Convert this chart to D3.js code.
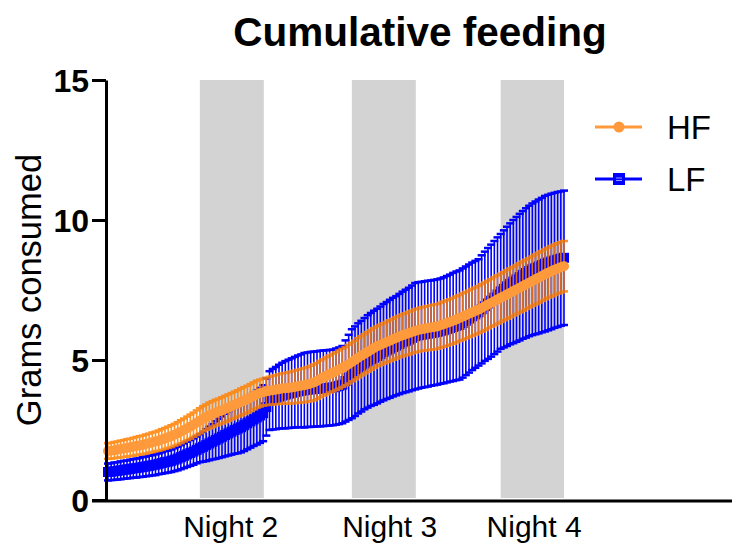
<!DOCTYPE html>
<html>
<head>
<meta charset="utf-8">
<script src="https://cdn.jsdelivr.net/npm/d3@7"></script>
<style>
  html, body { margin: 0; padding: 0; background: #fff; }
  svg { display: block; font-family: "Liberation Sans", Arial, Helvetica, sans-serif; }
</style>
</head>
<body>
<svg id="chart" width="732" height="544"></svg>
<script>
// ---------- data ----------
const title = "Cumulative feeding";
const yLabel = "Grams consumed";
const seriesNames = ["HF", "LF"];
const yTicks = [0, 5, 10, 15];
const nightLabels = ["Night 2", "Night 3", "Night 4"];
const nightLabelHours = [19.3, 44.4, 67.2];
const nightStart = [14.5, 38.5, 62.0];
const nightEnd = [24.6, 48.6, 72.0];
// time of each reading, hours (half-hourly)
const hours = d3.range(145).map(i => i * 0.5);

const hfMean = [
  1.75,1.76,1.78,1.80,1.82,1.84,1.86,1.88,1.90,1.93,
  1.95,1.97,2.00,2.03,2.06,2.09,2.12,2.16,2.20,2.24,
  2.28,2.33,2.38,2.44,2.50,2.56,2.62,2.69,2.76,2.83,
  2.90,2.96,3.02,3.07,3.12,3.16,3.20,3.25,3.30,3.35,
  3.40,3.45,3.50,3.55,3.60,3.66,3.72,3.78,3.82,3.85,
  3.88,3.90,3.92,3.94,3.96,3.98,3.99,4.00,4.02,4.04,
  4.06,4.08,4.10,4.13,4.16,4.20,4.25,4.32,4.38,4.44,
  4.50,4.55,4.60,4.66,4.72,4.78,4.85,4.93,5.00,5.08,
  5.15,5.22,5.29,5.36,5.43,5.49,5.54,5.59,5.64,5.69,
  5.74,5.79,5.84,5.88,5.92,5.96,6.00,6.04,6.07,6.10,
  6.12,6.14,6.16,6.18,6.20,6.24,6.28,6.32,6.36,6.40,
  6.45,6.50,6.55,6.60,6.65,6.70,6.75,6.80,6.86,6.92,
  6.98,7.04,7.10,7.16,7.22,7.28,7.34,7.40,7.46,7.52,
  7.58,7.64,7.70,7.76,7.82,7.88,7.94,8.00,8.06,8.12,
  8.17,8.22,8.27,8.31,8.35
];
const hfSem = [
  0.28,0.28,0.29,0.29,0.30,0.30,0.31,0.31,0.32,0.32,
  0.33,0.33,0.34,0.34,0.35,0.35,0.36,0.37,0.37,0.38,
  0.39,0.39,0.40,0.41,0.41,0.42,0.43,0.43,0.44,0.45,
  0.45,0.45,0.46,0.46,0.46,0.46,0.47,0.47,0.47,0.47,
  0.47,0.47,0.48,0.48,0.48,0.48,0.48,0.48,0.48,0.48,
  0.49,0.50,0.51,0.52,0.53,0.54,0.55,0.56,0.57,0.58,
  0.59,0.60,0.61,0.62,0.63,0.64,0.64,0.65,0.65,0.66,
  0.66,0.67,0.67,0.68,0.68,0.68,0.69,0.69,0.69,0.70,
  0.70,0.70,0.71,0.71,0.71,0.71,0.72,0.72,0.72,0.73,
  0.73,0.74,0.74,0.75,0.75,0.76,0.76,0.77,0.77,0.78,
  0.78,0.79,0.79,0.80,0.80,0.80,0.81,0.81,0.81,0.82,
  0.82,0.82,0.83,0.83,0.83,0.84,0.84,0.84,0.85,0.85,
  0.85,0.85,0.86,0.86,0.86,0.86,0.87,0.87,0.87,0.87,
  0.88,0.88,0.88,0.88,0.88,0.89,0.89,0.89,0.89,0.89,
  0.90,0.90,0.90,0.90,0.90
];
const lfMean = [
  1.00,1.01,1.03,1.04,1.06,1.08,1.09,1.11,1.13,1.14,
  1.16,1.18,1.20,1.22,1.24,1.26,1.29,1.32,1.35,1.37,
  1.40,1.44,1.48,1.53,1.58,1.63,1.68,1.73,1.79,1.85,
  1.90,1.96,2.02,2.08,2.14,2.20,2.26,2.32,2.38,2.44,
  2.50,2.55,2.60,2.67,2.74,2.81,2.88,2.95,3.02,3.10,
  3.32,3.55,3.60,3.64,3.69,3.73,3.76,3.79,3.82,3.85,
  3.88,3.90,3.92,3.94,3.95,3.96,3.97,3.98,3.99,4.00,
  4.01,4.02,4.05,4.08,4.12,4.25,4.38,4.51,4.60,4.70,
  4.78,4.87,4.95,5.02,5.08,5.14,5.21,5.28,5.34,5.40,
  5.46,5.51,5.57,5.63,5.68,5.73,5.79,5.85,5.88,5.90,
  5.92,5.94,5.96,5.98,6.00,6.03,6.06,6.10,6.14,6.18,
  6.22,6.25,6.32,6.40,6.48,6.56,6.63,6.70,6.81,6.92,
  7.02,7.12,7.23,7.34,7.45,7.54,7.63,7.72,7.80,7.88,
  7.96,8.04,8.11,8.18,8.24,8.29,8.34,8.39,8.44,8.48,
  8.52,8.56,8.59,8.62,8.65
];
const lfSem = [
  0.30,0.30,0.31,0.31,0.32,0.32,0.32,0.33,0.33,0.34,
  0.34,0.35,0.35,0.36,0.36,0.37,0.37,0.38,0.39,0.39,
  0.40,0.41,0.42,0.43,0.44,0.45,0.46,0.47,0.48,0.50,
  0.53,0.57,0.60,0.63,0.67,0.70,0.73,0.76,0.79,0.82,
  0.85,0.88,0.90,0.92,0.93,0.94,0.95,0.97,0.98,1.00,
  1.02,1.05,1.08,1.11,1.14,1.17,1.20,1.22,1.24,1.26,
  1.28,1.30,1.33,1.33,1.34,1.34,1.34,1.35,1.35,1.35,
  1.35,1.35,1.36,1.37,1.38,1.45,1.52,1.59,1.60,1.61,
  1.62,1.63,1.65,1.66,1.68,1.69,1.70,1.72,1.73,1.75,
  1.76,1.77,1.79,1.81,1.83,1.85,1.87,1.90,1.90,1.89,
  1.89,1.89,1.88,1.88,1.88,1.88,1.89,1.90,1.91,1.93,
  1.94,1.95,1.95,1.94,1.93,1.92,1.91,1.90,1.93,1.95,
  1.98,2.00,2.02,2.04,2.05,2.09,2.13,2.16,2.20,2.23,
  2.26,2.28,2.31,2.33,2.35,2.37,2.39,2.40,2.42,2.42,
  2.42,2.41,2.41,2.40,2.40
];

// ---------- drawing ----------
const svg = d3.select("#chart");
const W = 732, H = 544;
const x = d3.scaleLinear().domain([0, 72]).range([108, 564]);
const y = d3.scaleLinear().domain([0, 15]).range([500, 80]);

const C = {
  hfLine: "#FF9A3C",
  hfBar: "#FF8000",
  lf: "#0000FF",
  night: "#D3D3D3"
};

// night bands
svg.append("g").selectAll("rect")
  .data(nightStart.map((s, i) => ({ s, e: nightEnd[i] })))
  .join("rect")
  .attr("x", d => x(d.s))
  .attr("width", d => x(d.e) - x(d.s))
  .attr("y", y(15))
  .attr("height", y(0) - y(15) - 2)
  .attr("fill", C.night);

function errorBars(g, mean, sem, color, opacity, capW, w) {
  const data = hours.map((h, i) => ({ h, m: mean[i], s: sem[i] }));
  const gg = g.append("g").attr("stroke", color).attr("opacity", opacity);
  gg.selectAll("line.v").data(data).join("line").attr("class", "v")
    .attr("x1", d => x(d.h)).attr("x2", d => x(d.h))
    .attr("y1", d => y(d.m - d.s)).attr("y2", d => y(d.m + d.s))
    .attr("stroke-width", w);
  gg.selectAll("line.t").data(data).join("line").attr("class", "t")
    .attr("x1", d => x(d.h) - capW / 2).attr("x2", d => x(d.h) + capW / 2)
    .attr("y1", d => y(d.m + d.s)).attr("y2", d => y(d.m + d.s))
    .attr("stroke-width", 2.5);
  gg.selectAll("line.b").data(data).join("line").attr("class", "b")
    .attr("x1", d => x(d.h) - capW / 2).attr("x2", d => x(d.h) + capW / 2)
    .attr("y1", d => y(d.m - d.s)).attr("y2", d => y(d.m - d.s))
    .attr("stroke-width", 2.5);
}

const plot = svg.append("g");
// LF
errorBars(plot, lfMean, lfSem, C.lf, 1, 8, 1.6);
plot.append("path")
  .datum(hours.map((h, i) => [h, lfMean[i]]))
  .attr("fill", "none").attr("stroke", C.lf).attr("stroke-width", 3)
  .attr("d", d3.line().x(d => x(d[0])).y(d => y(d[1])));
plot.append("g").selectAll("rect")
  .data(hours.map((h, i) => [h, lfMean[i]]))
  .join("rect")
  .attr("x", d => x(d[0]) - 5).attr("y", d => y(d[1]) - 5)
  .attr("width", 10).attr("height", 10).attr("fill", C.lf);

// HF
errorBars(plot, hfMean, hfSem, C.hfBar, 0.85, 8, 1.6);
plot.append("path")
  .datum(hours.map((h, i) => [h, hfMean[i]]))
  .attr("fill", "none").attr("stroke", C.hfLine).attr("stroke-width", 3)
  .attr("d", d3.line().x(d => x(d[0])).y(d => y(d[1])));
plot.append("g").selectAll("circle")
  .data(hours.map((h, i) => [h, hfMean[i]]))
  .join("circle")
  .attr("cx", d => x(d[0])).attr("cy", d => y(d[1]))
  .attr("r", 5).attr("fill", C.hfLine);

// y axis
const yAxis = svg.append("g")
  .attr("transform", `translate(106,0)`)
  .call(d3.axisLeft(y).tickValues(yTicks).tickSize(14).tickPadding(3).tickSizeOuter(0));
yAxis.select(".domain").attr("stroke", "#000").attr("stroke-width", 3);
yAxis.selectAll(".tick line").attr("stroke", "#000").attr("stroke-width", 3);
yAxis.selectAll(".tick text")
  .attr("font-size", 32).attr("font-weight", "bold").attr("fill", "#000")
  .attr("font-family", "Liberation Sans, Arial, sans-serif")
  .attr("dy", "0.36em");

// x axis
const xAxis = svg.append("g")
  .attr("transform", `translate(0,501)`)
  .call(d3.axisBottom(x).tickValues(nightLabelHours)
    .tickFormat((d, i) => nightLabels[i]).tickSize(0).tickPadding(15));
xAxis.select(".domain").remove();
xAxis.append("line")
  .attr("x1", 92).attr("x2", W).attr("y1", 0).attr("y2", 0)
  .attr("stroke", "#000").attr("stroke-width", 3);
xAxis.selectAll(".tick text")
  .attr("font-size", 30).attr("fill", "#000")
  .attr("font-family", "Liberation Sans, Arial, sans-serif");

// title
svg.append("text")
  .attr("x", 420).attr("y", 46)
  .attr("text-anchor", "middle")
  .attr("font-size", 40.5).attr("font-weight", "bold")
  .text(title);

// y label
svg.append("text")
  .attr("transform", "translate(41,290) rotate(-90)")
  .attr("text-anchor", "middle")
  .attr("font-size", 34.5)
  .text(yLabel);

// legend
const lg = svg.append("g");
const legendRows = [
  { name: seriesNames[0], color: C.hfLine, cy: 127, shape: "circle" },
  { name: seriesNames[1], color: C.lf, cy: 179, shape: "square" }
];
legendRows.forEach(r => {
  lg.append("line").attr("x1", 595).attr("x2", 642).attr("y1", r.cy).attr("y2", r.cy)
    .attr("stroke", r.color).attr("stroke-width", 3);
  if (r.shape === "circle") {
    lg.append("circle").attr("cx", 619).attr("cy", r.cy).attr("r", 5.5).attr("fill", r.color);
  } else {
    lg.append("rect").attr("x", 613).attr("y", r.cy - 6).attr("width", 12).attr("height", 12).attr("fill", r.color);
    lg.append("line").attr("x1", 616).attr("x2", 622).attr("y1", r.cy - 1).attr("y2", r.cy - 1)
      .attr("stroke", "#9999ff").attr("stroke-width", 1);
    lg.append("line").attr("x1", 616).attr("x2", 622).attr("y1", r.cy + 1.5).attr("y2", r.cy + 1.5)
      .attr("stroke", "#9999ff").attr("stroke-width", 1);
  }
  lg.append("text").attr("x", 667).attr("y", r.cy + 12)
    .attr("font-size", 33).text(r.name);
});
</script>
</body>
</html>
